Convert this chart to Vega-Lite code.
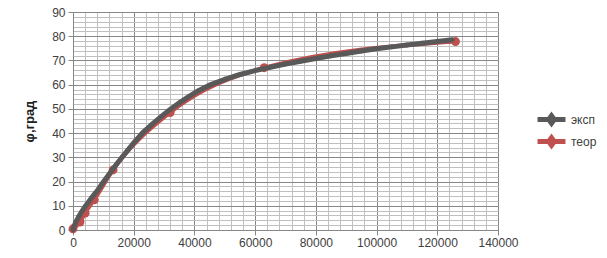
{
  "$schema": "https://vega.github.io/schema/vega-lite/v6.json",
  "width": 425,
  "height": 218,
  "autosize": {"type": "none"},
  "padding": {"left": 73, "top": 12, "right": 109, "bottom": 28},
  "background": "white",
  "config": {
    "view": {"stroke": null},
    "font": "Liberation Sans",
    "axis": {"labelFont": "Liberation Sans", "labelFontSize": 12, "labelColor": "#404040", "titleFont": "Liberation Sans"}
  },
  "datasets": {
    "exp": [
      {"x": 0, "phi": 0, "series": "эксп"},
      {"x": 500, "phi": 2, "series": "эксп"},
      {"x": 1000, "phi": 3.5, "series": "эксп"},
      {"x": 2000, "phi": 5.8, "series": "эксп"},
      {"x": 3000, "phi": 7.8, "series": "эксп"},
      {"x": 4000, "phi": 9.7, "series": "эксп"},
      {"x": 5000, "phi": 11.4, "series": "эксп"},
      {"x": 6000, "phi": 13.1, "series": "эксп"},
      {"x": 7000, "phi": 14.7, "series": "эксп"},
      {"x": 8000, "phi": 16.2, "series": "эксп"},
      {"x": 10000, "phi": 19.8, "series": "эксп"},
      {"x": 12000, "phi": 23.2, "series": "эксп"},
      {"x": 14000, "phi": 26.6, "series": "эксп"},
      {"x": 16000, "phi": 29.8, "series": "эксп"},
      {"x": 18000, "phi": 32.9, "series": "эксп"},
      {"x": 20000, "phi": 36, "series": "эксп"},
      {"x": 23000, "phi": 40.2, "series": "эксп"},
      {"x": 26000, "phi": 43.6, "series": "эксп"},
      {"x": 29000, "phi": 46.8, "series": "эксп"},
      {"x": 32000, "phi": 49.8, "series": "эксп"},
      {"x": 35000, "phi": 52.5, "series": "эксп"},
      {"x": 38000, "phi": 55, "series": "эксп"},
      {"x": 41000, "phi": 57.3, "series": "эксп"},
      {"x": 45000, "phi": 59.8, "series": "эксп"},
      {"x": 50000, "phi": 62.2, "series": "эксп"},
      {"x": 55000, "phi": 64.2, "series": "эксп"},
      {"x": 60000, "phi": 65.8, "series": "эксп"},
      {"x": 65000, "phi": 67.2, "series": "эксп"},
      {"x": 70000, "phi": 68.5, "series": "эксп"},
      {"x": 75000, "phi": 69.7, "series": "эксп"},
      {"x": 80000, "phi": 70.8, "series": "эксп"},
      {"x": 85000, "phi": 71.9, "series": "эксп"},
      {"x": 90000, "phi": 72.9, "series": "эксп"},
      {"x": 95000, "phi": 73.9, "series": "эксп"},
      {"x": 100000, "phi": 74.8, "series": "эксп"},
      {"x": 105000, "phi": 75.6, "series": "эксп"},
      {"x": 110000, "phi": 76.4, "series": "эксп"},
      {"x": 115000, "phi": 77.1, "series": "эксп"},
      {"x": 120000, "phi": 77.8, "series": "эксп"},
      {"x": 125000, "phi": 78.5, "series": "эксп"}
    ],
    "teor": [
      {"x": 0, "phi": 0.5, "series": "теор"},
      {"x": 2300, "phi": 3.3, "series": "теор"},
      {"x": 4000, "phi": 7, "series": "теор"},
      {"x": 7000, "phi": 12.5, "series": "теор"},
      {"x": 13200, "phi": 24.8, "series": "теор"},
      {"x": 32000, "phi": 48.5, "series": "теор"},
      {"x": 63000, "phi": 67, "series": "теор"},
      {"x": 126000, "phi": 77.8, "series": "теор"}
    ]
  },
  "layer": [
    {
      "data": {"name": "teor"},
      "mark": {"type": "line", "strokeWidth": 4, "interpolate": "monotone"},
      "encoding": {
        "x": {"field": "x", "type": "quantitative", "scale": {"domain": [0, 140000], "nice": false},
          "axis": {"values": [0,4000,8000,12000,16000,20000,24000,28000,32000,36000,40000,44000,48000,52000,56000,60000,64000,68000,72000,76000,80000,84000,88000,92000,96000,100000,104000,108000,112000,116000,120000,124000,128000,132000,136000,140000],
            "grid": true, "gridColor": "#c0c0c0", "gridWidth": 1, "labels": false, "ticks": false, "domain": false, "title": null}},
        "y": {"field": "phi", "type": "quantitative", "scale": {"domain": [0, 90], "nice": false},
          "axis": {"values": [0,2,4,6,8,10,12,14,16,18,20,22,24,26,28,30,32,34,36,38,40,42,44,46,48,50,52,54,56,58,60,62,64,66,68,70,72,74,76,78,80,82,84,86,88,90],
            "grid": true, "gridColor": "#c0c0c0", "gridWidth": 1, "labels": false, "ticks": false, "domain": false, "title": null}},
        "color": {"field": "series", "type": "nominal",
          "scale": {"domain": ["эксп", "теор"], "range": ["#595959", "#c0504d"]},
          "legend": {"orient": "none", "legendX": 471, "legendY": 100, "title": null,
            "symbolType": "M-3,0H3M0,-0.8L0.6,0L0,0.8L-0.6,0Z", "symbolSize": 87, "symbolStrokeWidth": 5,
            "labelFontSize": 12, "labelColor": "#404040", "labelFont": "Liberation Sans", "rowPadding": -15, "labelOffset": 12}}
      }
    },
    {
      "data": {"name": "teor"},
      "mark": {"type": "point", "shape": "circle", "filled": true, "opacity": 1, "size": 80},
      "encoding": {
        "x": {"field": "x", "type": "quantitative",
          "axis": {"values": [0,20000,40000,60000,80000,100000,120000,140000], "format": "d", "labelOverlap": false, "labelFlush": false, "grid": true, "gridColor": "#878787", "gridWidth": 1,
            "domain": true, "domainColor": "#878787", "ticks": true, "tickColor": "#878787", "tickSize": 5, "labelPadding": 2, "title": null, "orient": "bottom"}},
        "y": {"field": "phi", "type": "quantitative",
          "axis": {"values": [0,10,20,30,40,50,60,70,80,90], "labelOverlap": false, "labelFlush": false, "grid": true, "gridColor": "#878787", "gridWidth": 1,
            "domain": true, "domainColor": "#878787", "ticks": true, "tickColor": "#878787", "tickSize": 5, "labelPadding": 3,
            "title": "φ,град", "titleFontSize": 13, "titleFontWeight": "bold", "titleColor": "#202020", "titlePadding": 15, "orient": "left"}},
        "color": {"field": "series", "type": "nominal"}
      }
    },
    {
      "data": {"name": "exp"},
      "mark": {"type": "line", "strokeWidth": 5},
      "encoding": {
        "x": {"field": "x", "type": "quantitative", "axis": null},
        "y": {"field": "phi", "type": "quantitative", "axis": null},
        "color": {"field": "series", "type": "nominal"}
      }
    },
    {
      "data": {"name": "exp"},
      "mark": {"type": "point", "shape": "diamond", "filled": true, "opacity": 1, "size": 30},
      "encoding": {
        "x": {"field": "x", "type": "quantitative", "axis": null},
        "y": {"field": "phi", "type": "quantitative", "axis": null},
        "color": {"field": "series", "type": "nominal"}
      }
    }
  ],
  "resolve": {"axis": {"x": "independent", "y": "independent"}}
}
